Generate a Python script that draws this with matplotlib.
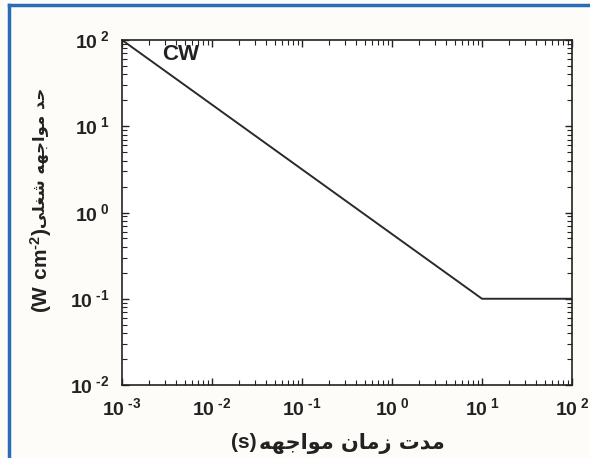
import matplotlib
matplotlib.use("Agg")
import matplotlib.pyplot as plt
from matplotlib.lines import Line2D
from matplotlib.ticker import LogLocator, FixedLocator, NullFormatter

# data: exposure duration (s) vs. exposure limit (W cm-2)
duration_s = [1e-3, 10, 100]
limit_w_cm2 = [100, 0.1, 0.1]
x_ticks = [1e-3, 1e-2, 1e-1, 1e0, 1e1, 1e2]
x_tick_labels = ["‐3", "‐2", "‐1", "0", "1", "2"]
y_ticks = [1e-2, 1e-1, 1e0, 1e1, 1e2]
y_tick_labels = ["‐2", "‐1", "0", "1", "2"]
series_label = "CW"
xlabel_fa = "مدت زمان مواجهه"
xlabel_unit = "(s)"
ylabel_fa = "حد مواجهه شغلی"
ylabel_unit = r"$\mathbf{(W\ cm^{‐2})}$"

# minimal persian shaping with presentation forms (isolated, final, initial, medial)
FORMS = {
    "م": ("\uFEE1", "\uFEE2", "\uFEE3", "\uFEE4"),
    "د": ("\uFEA9", "\uFEAA", None, None),
    "ت": ("\uFE95", "\uFE96", "\uFE97", "\uFE98"),
    "ز": ("\uFEAF", "\uFEB0", None, None),
    "ا": ("\uFE8D", "\uFE8E", None, None),
    "ن": ("\uFEE5", "\uFEE6", "\uFEE7", "\uFEE8"),
    "و": ("\uFEED", "\uFEEE", None, None),
    "ج": ("\uFE9D", "\uFE9E", "\uFE9F", "\uFEA0"),
    "ه": ("\uFEE9", "\uFEEA", "\uFEEB", "\uFEEC"),
    "ح": ("\uFEA1", "\uFEA2", "\uFEA3", "\uFEA4"),
    "ش": ("\uFEB5", "\uFEB6", "\uFEB7", "\uFEB8"),
    "غ": ("\uFECD", "\uFECE", "\uFECF", "\uFED0"),
    "ل": ("\uFEDD", "\uFEDE", "\uFEDF", "\uFEE0"),
    "ی": ("\uFEEF", "\uFEF0", "\uFEF3", "\uFEF4"),
}


def shape_word(word):
    out = []
    for i, ch in enumerate(word):
        f = FORMS[ch]
        prev_joins = i > 0 and FORMS[word[i - 1]][2] is not None
        can_join_next = f[2] is not None and i < len(word) - 1
        if prev_joins and can_join_next:
            out.append(f[3])
        elif prev_joins:
            out.append(f[1])
        elif can_join_next:
            out.append(f[2])
        else:
            out.append(f[0])
    return "".join(out)


def visual(text):
    # shape each word and lay them out right-to-left
    return " ".join(shape_word(w)[::-1] for w in text.split()[::-1])


def px(x, y):
    # pixel position -> figure fraction
    return x / 590, 1 - y / 458


plt.rcParams["mathtext.fontset"] = "custom"
plt.rcParams["mathtext.rm"] = "Liberation Sans:bold"
plt.rcParams["mathtext.bf"] = "Liberation Sans:bold"
plt.rcParams["font.family"] = ["Liberation Sans", "DejaVu Sans"]

fig = plt.figure(figsize=(5.9, 4.58), dpi=100)
fig.patch.set_facecolor("#fefcf8")
ax = fig.add_axes([122 / 590, 1 - 385 / 458, 450 / 590, 345 / 458])
ax.set_facecolor("white")

ax.plot(duration_s, limit_w_cm2, color="#2a2a2a", lw=1.4)
ax.text(0.089, 0.942, series_label, transform=ax.transAxes, fontsize=16,
        fontweight="bold", color="#222222", va="baseline")

ax.set_xscale("log")
ax.set_yscale("log")
ax.set_xlim(1e-3, 1e2)
ax.set_ylim(1e-2, 1e2)

ax.xaxis.set_major_locator(FixedLocator(x_ticks))
ax.yaxis.set_major_locator(FixedLocator(y_ticks))
ax.set_xticklabels([r"$10^{\;%s}$" % t for t in x_tick_labels])
ax.set_yticklabels([r"$10^{\;%s}$" % t for t in y_tick_labels])
ax.xaxis.set_minor_locator(LogLocator(base=10, subs=range(2, 10), numticks=20))
ax.yaxis.set_minor_locator(LogLocator(base=10, subs=range(2, 10), numticks=20))
ax.xaxis.set_minor_formatter(NullFormatter())
ax.yaxis.set_minor_formatter(NullFormatter())
ax.tick_params(which="both", direction="in", top=True, right=True, colors="#222222")
ax.tick_params(which="major", length=5, width=1, labelsize=14)
ax.tick_params(axis="x", which="major", pad=9)
ax.tick_params(axis="y", which="major", pad=9)
ax.tick_params(which="minor", length=3.5, width=0.8)
for s in ax.spines.values():
    s.set_linewidth(1.2)
    s.set_color("#222222")

# axis titles: persian words plus latin unit, placed side by side
fig.text(*px(352, 443), visual(xlabel_fa), fontsize=15, fontweight="bold",
         family=["DejaVu Sans"], ha="center", va="center", color="#222222")
fig.text(*px(244, 443), xlabel_unit, fontsize=15, fontweight="bold",
         ha="center", va="center", color="#222222")
fig.text(*px(41, 158), visual(ylabel_fa), fontsize=11.8, fontweight="bold",
         family=["DejaVu Sans"], rotation=90, ha="center", va="center", color="#222222")
fig.text(*px(41, 270), ylabel_unit, fontsize=15, rotation=90,
         ha="center", va="center", color="#222222")

# blue frame around the picture
fig.add_artist(Line2D([9 / 590, 9 / 590], [0, 1 - 5 / 458], transform=fig.transFigure,
                      color="#2a6cb8", lw=2.5))
fig.add_artist(Line2D([9 / 590, 1], [1 - 5 / 458, 1 - 5 / 458], transform=fig.transFigure,
                      color="#2a6cb8", lw=2.5))

fig.savefig("out.png", dpi=100, facecolor=fig.get_facecolor())
